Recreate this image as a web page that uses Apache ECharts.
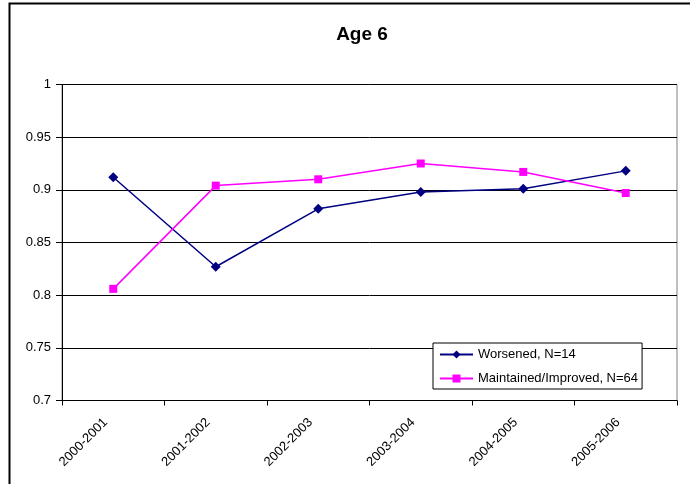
<!DOCTYPE html>
<html>
<head>
<meta charset="utf-8">
<script src="https://cdn.jsdelivr.net/npm/echarts@6/dist/echarts.min.js"></script>
<style>
  html, body { margin: 0; padding: 0; background: #fff; }
  #chart { width: 690px; height: 484px; }
</style>
</head>
<body>
<div id="chart"></div>
<script>
// School years on the category axis
const years = ['2000-2001', '2001-2002', '2002-2003', '2003-2004', '2004-2005', '2005-2006'];
// Yearly averages per group
const worsened = [0.912, 0.827, 0.882, 0.898, 0.901, 0.918];
const maintained = [0.806, 0.904, 0.910, 0.925, 0.917, 0.897];
// Value axis range and step
const yMin = 0.7, yMax = 1, yStep = 0.05;

const FONT = 'Liberation Sans, Arial, sans-serif';
const chart = echarts.init(document.getElementById('chart'), null, { renderer: 'canvas' });

chart.setOption({
  backgroundColor: '#fff',
  animation: false,
  title: {
    text: 'Age 6',
    left: 357,
    textAlign: 'center',
    top: 20,
    textStyle: { fontFamily: FONT, fontSize: 19, fontWeight: 'bold', color: '#000' }
  },
  graphic: [{
    type: 'rect',
    shape: { x: 9.5, y: 3.5, width: 700, height: 500 },
    style: { fill: 'none', stroke: '#000', lineWidth: 2 },
    silent: true
  }],
  grid: {
    left: 62, right: 13, top: 84.5, bottom: 83.5,
    show: true, borderColor: '#808080', borderWidth: 1, backgroundColor: '#fff'
  },
  legend: {
    orient: 'vertical',
    left: 433, top: 343,
    padding: [5, 4, 4, 6],
    itemGap: 11,
    itemWidth: 33, itemHeight: 10,
    backgroundColor: '#fff',
    borderColor: '#000', borderWidth: 1,
    textStyle: { fontFamily: FONT, fontSize: 13, color: '#000' },
    data: ['Worsened, N=14', 'Maintained/Improved, N=64']
  },
  xAxis: {
    type: 'category',
    data: years,
    boundaryGap: true,
    axisLine: { lineStyle: { color: '#000', width: 1 } },
    axisTick: { show: true, alignWithLabel: false, length: 5, lineStyle: { color: '#000' } },
    axisLabel: { rotate: 45, margin: 12, padding: [0, 11, 0, 0],
      fontFamily: FONT, fontSize: 13, color: '#000', interval: 0 },
    splitLine: { show: false }
  },
  yAxis: {
    type: 'value',
    min: yMin, max: yMax, interval: yStep,
    axisLine: { show: true, lineStyle: { color: '#000', width: 1 } },
    axisTick: { show: true, length: 6, lineStyle: { color: '#000' } },
    axisLabel: { margin: 11, fontFamily: FONT, fontSize: 13, color: '#000',
      formatter: v => String(+v.toFixed(2)) },
    splitLine: { show: true, lineStyle: { color: '#000', width: 1 } }
  },
  series: [
    {
      name: 'Worsened, N=14',
      type: 'line',
      data: worsened,
      symbol: 'diamond',
      symbolSize: 10,
      itemStyle: { color: '#000080' },
      lineStyle: { color: '#000080', width: 1.5 }
    },
    {
      name: 'Maintained/Improved, N=64',
      type: 'line',
      data: maintained,
      symbol: 'rect',
      symbolSize: 8,
      itemStyle: { color: '#FF00FF' },
      lineStyle: { color: '#FF00FF', width: 1.5 }
    }
  ]
});
</script>
</body>
</html>
